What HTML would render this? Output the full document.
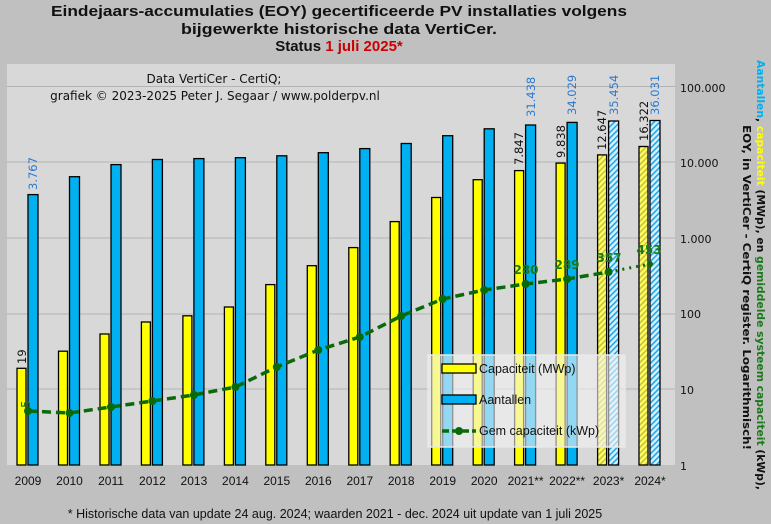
<!DOCTYPE html>
<html><head><meta charset="utf-8"><style>
body{margin:0;background:#c0c0c0;}
svg{display:block;font-family:"DejaVu Sans","Liberation Sans",sans-serif;}
</style></head><body>
<svg width="771" height="524" viewBox="0 0 771 524" xmlns="http://www.w3.org/2000/svg">
<defs>
<pattern id="hy" width="4" height="4" patternUnits="userSpaceOnUse" patternTransform="rotate(45)">
<rect width="4" height="4" fill="#ffff60"/><rect width="1.6" height="4" fill="#c8c040"/></pattern>
<pattern id="hb" width="4" height="4" patternUnits="userSpaceOnUse" patternTransform="rotate(45)">
<rect width="4" height="4" fill="#d8f0ff"/><rect width="1.6" height="4" fill="#20a8e8"/></pattern>
</defs>
<rect width="771" height="524" fill="#c0c0c0"/>
<g font-family="'Liberation Sans',sans-serif" font-weight="bold" font-size="15" text-anchor="middle" fill="#111">
<text x="339" y="16" textLength="576" lengthAdjust="spacingAndGlyphs">Eindejaars-accumulaties (EOY) gecertificeerde PV installaties volgens</text>
<text x="339" y="34" textLength="316" lengthAdjust="spacingAndGlyphs">bijgewerkte historische data VertiCer.</text>
<text x="339" y="51">Status <tspan fill="#cc0000">1 juli 2025*</tspan></text>
</g>
<rect x="7" y="64" width="668" height="401" fill="#d8d8d8"/>
<g stroke="#b4b4b4" stroke-width="1">
<line x1="7" x2="675" y1="86.5" y2="86.5"/><line x1="7" x2="675" y1="162" y2="162"/>
<line x1="7" x2="675" y1="238" y2="238"/><line x1="7" x2="675" y1="314" y2="314"/>
<line x1="7" x2="675" y1="389" y2="389"/>
</g>
<g font-size="12" fill="#111" text-anchor="middle">
<text x="214" y="83">Data VertiCer  - CertiQ;</text>
<text x="215" y="100">grafiek © 2023-2025 Peter J. Segaar / www.polderpv.nl</text>
</g>
<g stroke="#000" stroke-width="1.3">
<g fill="#ffff00">
<rect x="17" y="368.3" width="9" height="96.7"/>
<rect x="58.5" y="351.2" width="9" height="113.8"/>
<rect x="100" y="334" width="9" height="131"/>
<rect x="141.4" y="322" width="9" height="143"/>
<rect x="182.9" y="315.8" width="9" height="149.2"/>
<rect x="224.4" y="307" width="9" height="158"/>
<rect x="265.8" y="284.6" width="9" height="180.4"/>
<rect x="307.3" y="265.7" width="9" height="199.3"/>
<rect x="348.8" y="247.6" width="9" height="217.4"/>
<rect x="390.2" y="221.6" width="9" height="243.4"/>
<rect x="431.7" y="197.5" width="9" height="267.5"/>
<rect x="473.2" y="179.7" width="9" height="285.3"/>
<rect x="514.6" y="170.6" width="9" height="294.4"/>
<rect x="556.1" y="163.1" width="9" height="301.9"/>
</g>
<rect x="597.6" y="154.9" width="9" height="310.1" fill="url(#hy)"/>
<rect x="639" y="146.5" width="9" height="318.5" fill="url(#hy)"/>
<g fill="#00b0f0">
<rect x="28" y="194.6" width="10" height="270.4"/>
<rect x="69.5" y="176.7" width="10" height="288.3"/>
<rect x="111" y="164.6" width="10" height="300.4"/>
<rect x="152.4" y="159.5" width="10" height="305.5"/>
<rect x="193.9" y="158.6" width="10" height="306.4"/>
<rect x="235.4" y="157.7" width="10" height="307.3"/>
<rect x="276.8" y="155.8" width="10" height="309.2"/>
<rect x="318.3" y="152.7" width="10" height="312.3"/>
<rect x="359.8" y="148.6" width="10" height="316.4"/>
<rect x="401.2" y="143.5" width="10" height="321.5"/>
<rect x="442.7" y="135.7" width="10" height="329.3"/>
<rect x="484.2" y="128.8" width="10" height="336.2"/>
<rect x="525.6" y="125" width="10" height="340"/>
<rect x="567.1" y="122.4" width="10" height="342.6"/>
</g>
<rect x="608.6" y="121" width="10" height="344" fill="url(#hb)"/>
<rect x="650" y="120.5" width="10" height="344.5" fill="url(#hb)"/>
</g>
<rect x="428" y="355" width="197" height="92" fill="#f4f4f4" fill-opacity="0.6" stroke="#e8e8e8" stroke-width="1.5"/>
<polyline fill="none" stroke="#0a6a0a" stroke-width="3.5" stroke-dasharray="9,5" points="28,411 69.5,413 111,407 152.4,401 193.9,395 235.4,387 276.8,367 318.3,350 359.8,337 401.2,316 442.7,299 484.2,290 525.6,284 567.1,279 608.6,272"/>
<polyline fill="none" stroke="#0a6a0a" stroke-width="3" stroke-dasharray="2,5" points="608.6,272 650,264"/>
<g fill="#0a6a0a">
<circle cx="28" cy="411" r="4"/><circle cx="69.5" cy="413" r="4"/><circle cx="111" cy="407" r="4"/><circle cx="152.4" cy="401" r="4"/><circle cx="193.9" cy="395" r="4"/><circle cx="235.4" cy="387" r="4"/><circle cx="276.8" cy="367" r="4"/><circle cx="318.3" cy="350" r="4"/><circle cx="359.8" cy="337" r="4"/><circle cx="401.2" cy="316" r="4"/><circle cx="442.7" cy="299" r="4"/><circle cx="484.2" cy="290" r="4"/><circle cx="525.6" cy="284" r="4"/><circle cx="567.1" cy="279" r="4"/><circle cx="608.6" cy="272" r="4"/><circle cx="650" cy="264" r="3"/>
</g>
<g stroke="#000" stroke-width="1.3">
<rect x="442" y="364" width="34" height="9" fill="#ffff00"/>
<rect x="442" y="395" width="34" height="9" fill="#00b0f0"/>
</g>
<line x1="442" x2="476" y1="431" y2="431" stroke="#0a6a0a" stroke-width="3.5" stroke-dasharray="7,3"/>
<circle cx="459" cy="431" r="4" fill="#0a6a0a"/>
<g font-family="'Liberation Sans',sans-serif" font-size="12.5" fill="#111">
<text x="479" y="373">Capaciteit (MWp)</text>
<text x="479" y="404">Aantallen</text>
<text x="479" y="435">Gem capaciteit (kWp)</text>
</g>
<g font-size="11.5" fill="#111">
<text transform="translate(26,364) rotate(-90)">19</text>
<text transform="translate(523,165) rotate(-90)">7.847</text>
<text transform="translate(565,158) rotate(-90)">9.838</text>
<text transform="translate(606,150) rotate(-90)">12.647</text>
<text transform="translate(648,141) rotate(-90)">16.322</text>
</g>
<g font-size="11.5" fill="#2a7ad0">
<text transform="translate(37,190) rotate(-90)">3.767</text>
<text transform="translate(535,117) rotate(-90)">31.438</text>
<text transform="translate(576,115) rotate(-90)">34.029</text>
<text transform="translate(618,115) rotate(-90)">35.454</text>
<text transform="translate(659,115) rotate(-90)">36.031</text>
</g>
<g font-size="12" fill="#1a7a1a" font-weight="bold" text-anchor="middle">
<text transform="translate(30,404) rotate(-90)" font-weight="normal">5</text>
<text x="526" y="274">280</text><text x="567" y="269">289</text>
<text x="609" y="262">357</text><text x="649" y="254">453</text>
</g>
<g font-size="11" fill="#111">
<text x="680" y="92">100.000</text><text x="680" y="167">10.000</text>
<text x="680" y="243">1.000</text><text x="680" y="318">100</text>
<text x="680" y="394">10</text><text x="680" y="470">1</text>
</g>
<g font-family="'Liberation Sans',sans-serif" font-size="12" fill="#111" text-anchor="middle">
<text x="28" y="485">2009</text><text x="69.5" y="485">2010</text><text x="111" y="485">2011</text><text x="152.4" y="485">2012</text><text x="193.9" y="485">2013</text><text x="235.4" y="485">2014</text><text x="276.8" y="485">2015</text><text x="318.3" y="485">2016</text><text x="359.8" y="485">2017</text><text x="401.2" y="485">2018</text><text x="442.7" y="485">2019</text><text x="484.2" y="485">2020</text><text x="525.6" y="485">2021**</text><text x="567.1" y="485">2022**</text><text x="608.6" y="485">2023*</text><text x="650" y="485">2024*</text>
</g>
<text x="335" y="518" font-family="'Liberation Sans',sans-serif" font-size="12.5" fill="#111" text-anchor="middle">* Historische data van update 24 aug. 2024; waarden 2021 - dec. 2024 uit update van 1 juli 2025</text>
<g font-size="11" font-weight="bold">
<text transform="translate(757,60) rotate(90)" textLength="430" lengthAdjust="spacingAndGlyphs"><tspan fill="#00b0f0">Aantallen</tspan><tspan fill="#111">, </tspan><tspan fill="#ffff00">capaciteit</tspan><tspan fill="#111"> (MWp), en </tspan><tspan fill="#1a7a1a">gemiddelde systeem capaciteit</tspan><tspan fill="#111"> (kWp),</tspan></text>
<text transform="translate(743,125) rotate(90)" fill="#111" textLength="325" lengthAdjust="spacingAndGlyphs">EOY, in VertiCer - CertiQ register. Logarithmisch!</text>
</g>
</svg>
</body></html>
